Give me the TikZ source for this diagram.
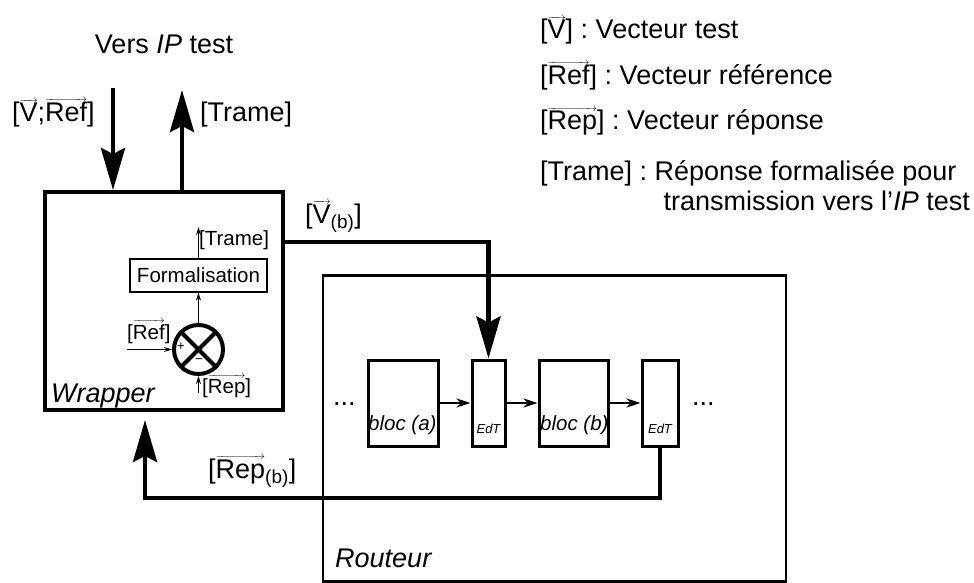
\documentclass[tikz,border=0pt]{standalone}
\usepackage{amsmath}
\usepackage{fontspec}
\setmainfont{Liberation Sans}
\usetikzlibrary{arrows.meta}
\frenchspacing

% fleche fine au-dessus d'un mot
\newcommand{\vect}[1]{\leavevmode\vbox{\offinterlineskip\ialign{##\cr
  {\fontsize{11}{11}\selectfont\rightarrowfill}\cr\noalign{\kern0.3pt}\hbox{#1}\cr}}}

\begin{document}
\begin{tikzpicture}[x=1pt, y=-1pt,
          every node/.style={font=\fontsize{27}{32}\selectfont, inner sep=0pt},
          txt/.style={anchor=base west},
          petit/.style={font=\fontsize{20.5}{24}\selectfont},
          tpetit/.style={font=\fontsize{13}{15}\selectfont},
          bloc/.style={draw, line width=3pt, minimum height=86pt},
          gros/.style={-{Stealth[length=42pt, width=24pt, inset=6pt]}, line width=4.5pt},
          moyen/.style={-{Stealth[length=14pt, width=9pt]}, line width=2.5pt},
          fin/.style={-{Stealth[length=8pt, width=5pt]}, line width=1.2pt},
        ]
          \useasboundingbox (0,0) rectangle (974,583);

          %% grands cadres
          \node[draw, line width=4pt, minimum width=238pt, minimum height=218pt] (wrapper) at (164,301) {};
          \node[draw, line width=2.8pt, minimum width=463pt, minimum height=306pt] (routeur) at (554.5,428.5) {};
          \node[txt, font=\fontsize{27}{32}\selectfont\itshape] (lwrapper) at (51,402) {Wrapper};
          \node[txt, font=\fontsize{27}{32}\selectfont\itshape] (lrouteur) at (335,567) {Routeur};

          %% interieur du wrapper
          \node[draw, line width=1.3pt, minimum width=137pt, minimum height=33pt, petit] (formal) at (198.5,275.5) {Formalisation};
          \node[draw, circle, line width=4pt, minimum size=49pt] (comp) at (198.5,349.5) {};
          \draw[line width=4pt] (comp.north east) -- (comp.south west);
          \draw[line width=4pt] (comp.north west) -- (comp.south east);
          \node[tpetit] (plus)  at (181,347) {+};
          \node[tpetit] (moins) at (199,361) {−};
          \coordinate (trame) at (198.5,227);
          \coordinate (ref)   at (127,349.5);
          \coordinate (rep)   at (198.5,393);
          \draw[fin] (comp) -- (formal);
          \draw[fin] (formal) -- (trame);
          \draw[fin] (ref) -- (comp.west);
          \draw[fin] (rep) -- (comp.south);
          \node[txt, petit] (ltrame) at (199,245) {[Trame]};
          \node[txt, petit] (lref)   at (127,339) {[\vect{Ref}]};
          \node[txt, petit] (lrep)   at (202,393) {[\vect{Rep}]};

          %% chaine du routeur
          \node[bloc, minimum width=70pt] (bloca) at (403,403) {};
          \node[bloc, minimum width=33pt] (edta)  at (488.5,403) {};
          \node[bloc, minimum width=69pt] (blocb) at (573.5,403) {};
          \node[bloc, minimum width=36pt] (edtb)  at (660,403) {};
          \node[txt, font=\fontsize{20.5}{24}\selectfont\itshape] (lbloca) at (368,430) {bloc (a)};
          \node[txt, font=\fontsize{20.5}{24}\selectfont\itshape] (lblocb) at (540,430) {bloc (b)};
          \node[anchor=base, font=\fontsize{13}{15}\selectfont\itshape] (ledta) at (488.5,433) {EdT};
          \node[anchor=base, font=\fontsize{13}{15}\selectfont\itshape] (ledtb) at (660,433) {EdT};
          \node[txt] (dotsg) at (333,405) {...};
          \node[txt] (dotsd) at (692,405) {...};
          \draw[moyen] (bloca) -- (edta);
          \draw[moyen] (edta) -- (blocb);
          \draw[moyen] (blocb) -- (edtb);

          %% liaisons IP test / wrapper
          \coordinate (entree) at (113,88);
          \coordinate (sortie) at (182,90);
          \draw[gros] (entree) -- (entree |- wrapper.north);
          \draw[gros] (sortie |- wrapper.north) -- (sortie);
          \node[anchor=base] (vers) at (164,54) {Vers \textit{IP} test};
          \node[txt] (lvref)   at (12,122) {[\vect{V};\vect{Ref}]};
          \node[txt] (ltrameh) at (200,122) {[Trame]};

          %% wrapper -> routeur -> wrapper
          \coordinate (vb)   at (300,242);
          \coordinate (repb) at (145,498);
          \draw[gros] (wrapper.east |- vb) -| (edta.north);
          \draw[gros] (edtb.south) |- (repb) -- ([yshift=-8pt]wrapper.south -| repb);
          \node[txt] (lvb)   at (305,223) {[\vect{V}$_{\text{(b)}}$]};
          \node[txt] (lrepb) at (208,478) {[\vect{Rep}$_{\text{(b)}}$]};

          %% legende
          \node[txt] (leg1) at (540,39)  {[\vect{V}] : Vecteur test};
          \node[txt] (leg2) at (540,85)  {[\vect{Ref}] : Vecteur référence};
          \node[txt] (leg3) at (540,130) {[\vect{Rep}] : Vecteur réponse};
          \node[txt] (leg4) at (540,180) {[Trame] : Réponse formalisée pour};
          \node[anchor=base east] (leg5) at (970,210) {transmission vers l'\textit{IP} test};
        \end{tikzpicture}
\end{document}
